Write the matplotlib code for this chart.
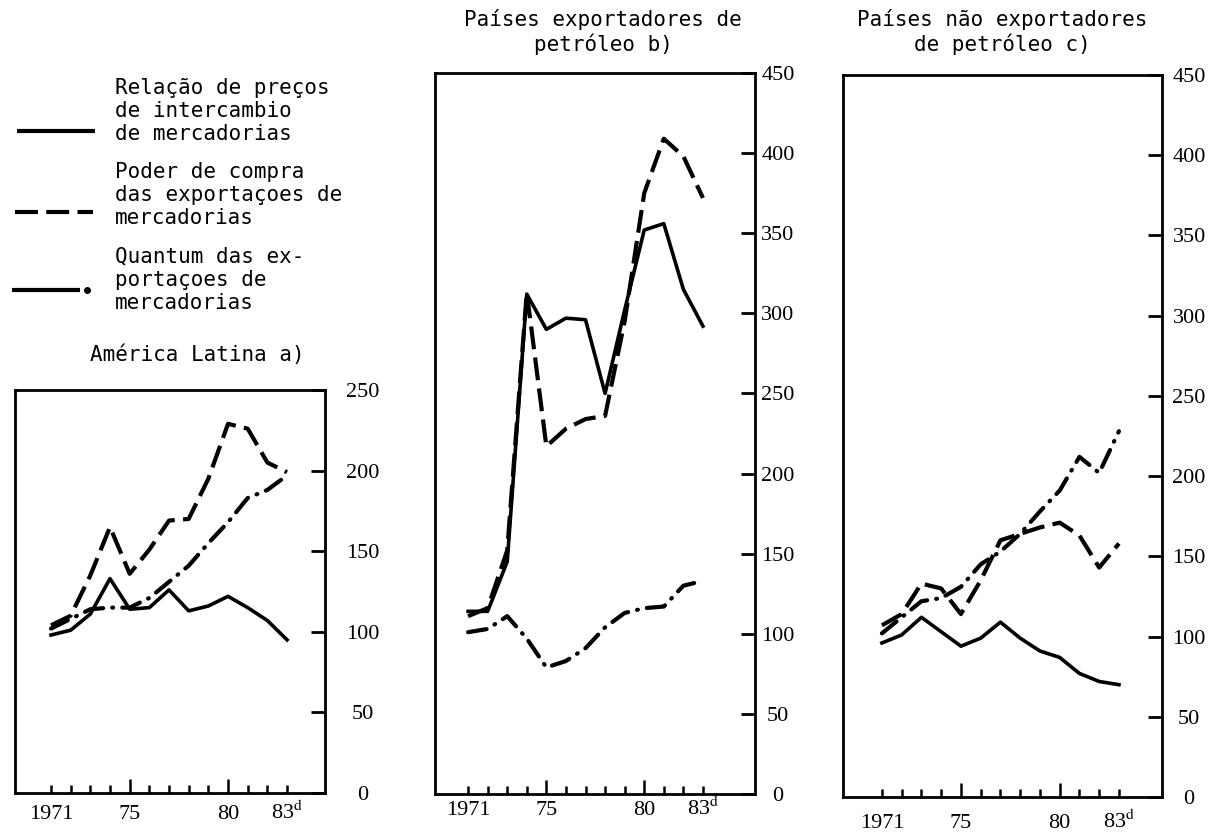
import matplotlib.pyplot as plt

# --- DADOS (índices 1970=100) ---
anos = list(range(1971, 1984))

# América Latina a)
al_relacao = [98, 101, 111, 133, 114, 115, 126, 113, 116, 122, 115, 107, 95]
al_poder = [104, 110, 135, 165, 136, 151, 169, 170, 195, 229, 226, 205, 199]
al_quantum = [102, 108, 114, 115, 115, 121, 131, 141, 155, 168, 183, 188, 197]

# Países exportadores de petróleo b)
pe_relacao = [114, 114, 145, 312, 290, 297, 296, 250, 302, 352, 356, 315, 292]
pe_poder = [111, 116, 152, 313, 217, 228, 234, 236, 295, 375, 409, 398, 372]
pe_quantum = [101, 103, 111, 97, 79, 83, 91, 104, 113, 116, 117, 130, 133]

# Países não exportadores de petróleo c)
pn_relacao = [96, 101, 112, 103, 94, 99, 109, 99, 91, 87, 77, 72, 70]
pn_poder = [107, 114, 133, 130, 114, 135, 160, 164, 168, 171, 163, 143, 158]
pn_quantum = [102, 112, 122, 124, 131, 145, 153, 164, 178, 191, 212, 202, 228]

rotulos_x_menores = ['1971', '', '', '', '', '', '', '', '', '', '83$^{\\mathrm{d}}$']
anos_menores = [a for a in anos if a not in (1975, 1980)]

plt.rcParams['font.family'] = 'DejaVu Sans Mono'
plt.rcParams['mathtext.fontset'] = 'stix'

W, H = 1217, 833
fig = plt.figure(figsize=(W / 100, H / 100), dpi=100)

TRACO = (5.5, 2.0)
TRACO_PONTO = (4.5, 2.2, 0.2, 2.2)
SERIF = 'Liberation Serif'

# camada de fundo em pixels para títulos e legenda
ov = fig.add_axes([0, 0, 1, 1])
ov.set_xlim(0, W)
ov.set_ylim(H, 0)
ov.axis('off')


def painel(caixa, xlim, ymax, relacao, poder, quantum, pad_y, pad_x):
    x0, y0, x1, y1 = caixa
    ax = fig.add_axes([x0 / W, 1 - y1 / H, (x1 - x0) / W, (y1 - y0) / H])
    ax.plot(anos, relacao, color='black', lw=2.6)
    ax.plot(anos, poder, color='black', lw=3, dashes=TRACO)
    ax.plot(anos, quantum, color='black', lw=3, dashes=TRACO_PONTO, dash_capstyle='round')
    ax.set_xlim(*xlim)
    ax.set_ylim(0, ymax)

    ax.yaxis.tick_right()
    ax.tick_params(axis='y', direction='in', length=10, width=2, pad=pad_y)
    ax.tick_params(axis='x', which='major', direction='in', length=10, width=1.8, pad=pad_x, top=False)
    ax.tick_params(axis='x', which='minor', direction='in', length=6, width=1.8, pad=pad_x, top=False)

    yt = list(range(0, ymax + 1, 50))
    ax.set_yticks(yt, [str(v) for v in yt], fontfamily=SERIF, fontsize=16, ha='center')
    ax.set_xticks([1975, 1980], ['75', '80'], fontfamily=SERIF, fontsize=16, va='baseline')
    ax.set_xticks(anos_menores, rotulos_x_menores, minor=True, fontfamily=SERIF, fontsize=16, va='baseline')
    for sp in ax.spines.values():
        sp.set_linewidth(2)
    return ax


painel((15, 390, 325, 793), (1969.17, 1984.93), 250, al_relacao, al_poder, al_quantum, 27, 19)
painel((435, 73, 755, 794), (1969.31, 1985.66), 450, pe_relacao, pe_poder, pe_quantum, 16.5, 15)
painel((843, 75, 1162, 797), (1969.03, 1985.18), 450, pn_relacao, pn_poder, pn_quantum, 19.5, 22)

# títulos
ov.text(197, 355, 'América Latina a)', fontsize=15, ha='center', va='center')
ov.text(603, 32, 'Países exportadores de\npetróleo b)', fontsize=15, ha='center', va='center',
        multialignment='center')
ov.text(1002, 32, 'Países não exportadores\nde petróleo c)', fontsize=15, ha='center', va='center',
        multialignment='center')

# legenda
ov.text(115, 111, 'Relação de preços\nde intercambio\nde mercadorias', fontsize=15, va='center')
ov.text(115, 195, 'Poder de compra\ndas exportaçoes de\nmercadorias', fontsize=15, va='center')
ov.text(115, 280, 'Quantum das ex-\nportaçoes de\nmercadorias', fontsize=15, va='center')
ov.plot([17, 95], [131, 131], color='black', lw=3, solid_capstyle='butt')
ov.plot([15, 93], [212, 212], color='black', lw=3, dashes=TRACO)
ov.plot([12, 80], [290, 290], color='black', lw=3, solid_capstyle='butt')
ov.plot([87], [290], 'o', color='black', ms=4)

fig.savefig('out.png', dpi=100)
